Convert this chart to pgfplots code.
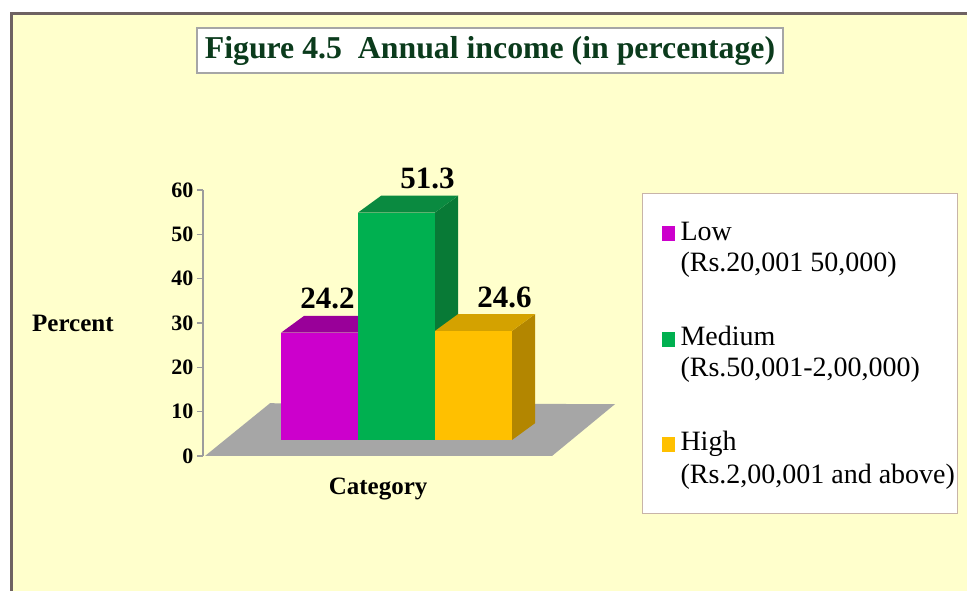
\documentclass[border=0pt]{standalone}
\usepackage{pgfplots}
\pgfplotsset{compat=1.18}
\usepackage{fontspec}
\setmainfont{Liberation Serif}
\definecolor{bg}{HTML}{FFFFCC}
\definecolor{frame}{HTML}{6E6262}
\definecolor{ttl}{HTML}{0B3B1C}
\definecolor{magF}{HTML}{CC00CC}
\definecolor{magT}{HTML}{990099}
\definecolor{magS}{HTML}{8A008A}
\definecolor{grnF}{HTML}{00B050}
\definecolor{grnT}{HTML}{0A8A40}
\definecolor{grnS}{HTML}{087A36}
\definecolor{ylwF}{HTML}{FFC000}
\definecolor{ylwT}{HTML}{D4A200}
\definecolor{ylwS}{HTML}{B38600}
\definecolor{floorc}{HTML}{A6A6A6}
\definecolor{axgray}{HTML}{9C9C9C}
\definecolor{lgdraw}{HTML}{C8B4A8}
\pgfplotsset{
  sqtop/.style={legend image code/.code={\fill[##1] (17pt,-8.75pt) rectangle (30pt,6.25pt); \path (36pt,0pt);}},
  sqlow/.style={legend image code/.code={\fill[##1] (17pt,-36.5pt) rectangle (30pt,-21.5pt); \path (36pt,0pt);}},
}
\begin{document}
\begin{tikzpicture}
\useasboundingbox (0pt,0pt) rectangle (967pt,591pt);
\fill[white] (0pt,0pt) rectangle (967pt,591pt);
\filldraw[fill=bg, draw=frame, line width=3pt] (11.5pt,577.5pt) rectangle (990pt,-20pt);
\filldraw[fill=white, draw=gray!70, line width=1.2pt] (197pt,518pt) rectangle (783pt,563pt);
\node[text=ttl, font=\fontsize{31.8}{38}\selectfont\bfseries] at (490pt,540.5pt) {Figure 4.5\ \ Annual income (in percentage)};

% floor and value axis
\begin{axis}[
  at={(203pt,135pt)}, anchor=south west,
  scale only axis, width=417pt, height=266pt,
  xmin=203, xmax=620, ymin=0, ymax=60,
  axis x line=none, axis y line*=left,
  y axis line style={axgray, line width=1.5pt, -},
  ytick={0,10,20,30,40,50,60},
  tick align=outside, major tick length=6pt,
  ytick style={axgray, line width=1.2pt},
  /pgf/number format/assume math mode=true,
  yticklabel style={font=\fontsize{22}{26}\selectfont\bfseries, text=black},
  clip=false,
]
\addplot[fill=floorc, draw=none] coordinates {(205,0) (552,0) (615,11.7) (270,11.9)} -- cycle;
\node[font=\fontsize{25}{30}\selectfont\bfseries] at (axis description cs:-0.312,0.5) {Percent};
\node[font=\fontsize{25}{30}\selectfont\bfseries] at (axis description cs:0.42,-0.125) {Category};
\end{axis}

% bars
\begin{axis}[
  at={(203pt,151pt)}, anchor=south west,
  scale only axis, width=417pt, height=266pt,
  xmin=-1.513, xmax=3.9026, ymin=0, ymax=60,
  hide axis, clip=false,
  /pgf/number format/assume math mode=true,
  legend cell align=left,
  legend style={at={(axis description cs:1.0528,0.9286)}, anchor=north west,
    draw=lgdraw, line width=1pt, fill=white, inner xsep=2pt, inner ysep=29pt,
    nodes={inner sep=0pt}, row sep=0pt,
    font=\fontsize{28}{31}\selectfont},
]
% side faces
\addplot[fill=magS, draw=none, forget plot] coordinates {(0.5,0) (0.5,24.2) (0.8,28.0) (0.8,3.8)} -- cycle;
\addplot[fill=grnS, draw=none, forget plot] coordinates {(1.5,0) (1.5,51.3) (1.8,55.1) (1.8,3.8)} -- cycle;
\addplot[fill=ylwS, draw=none, forget plot] coordinates {(2.5,0) (2.5,24.6) (2.8,28.4) (2.8,3.8)} -- cycle;
% top faces
\addplot[fill=magT, draw=none, forget plot] coordinates {(-0.5,24.2) (-0.2,28.0) (0.8,28.0) (0.5,24.2)} -- cycle;
\addplot[fill=grnT, draw=none, forget plot] coordinates {(0.5,51.3) (0.8,55.1) (1.8,55.1) (1.5,51.3)} -- cycle;
\addplot[fill=ylwT, draw=none, forget plot] coordinates {(1.5,24.6) (1.8,28.4) (2.8,28.4) (2.5,24.6)} -- cycle;
% front faces
\addplot[ybar, bar width=1, bar shift=0pt, fill=magF, draw=none, sqtop,
  nodes near coords, nodes near coords style={font=\fontsize{31}{36}\selectfont\bfseries, anchor=center, xshift=8pt, yshift=34pt}]
  coordinates {(0,24.2)};
\addlegendentry{\rule{0pt}{17.5pt}Low}
\addlegendimage{empty legend}
\addlegendentry{\rule{0pt}{29pt}(Rs.20,001 50,000)}
\addplot[ybar, bar width=1, bar shift=0pt, fill=grnF, draw=none, sqlow,
  nodes near coords, nodes near coords style={font=\fontsize{31}{36}\selectfont\bfseries, anchor=center, xshift=31pt, yshift=34pt}]
  coordinates {(1,51.3)};
\addlegendentry{\rule{0pt}{73pt}Medium}
\addlegendimage{empty legend}
\addlegendentry{\rule{0pt}{29pt}(Rs.50,001-2,00,000)}
\addplot[ybar, bar width=1, bar shift=0pt, fill=ylwF, draw=none, sqlow,
  nodes near coords, nodes near coords style={font=\fontsize{31}{36}\selectfont\bfseries, anchor=center, xshift=31pt, yshift=33pt}]
  coordinates {(2,24.6)};
\addlegendentry{\rule{0pt}{73pt}High}
\addlegendimage{empty legend}
\addlegendentry{\rule{0pt}{31pt}(Rs.2,00,001 and above)}
\end{axis}
\end{tikzpicture}
\end{document}
